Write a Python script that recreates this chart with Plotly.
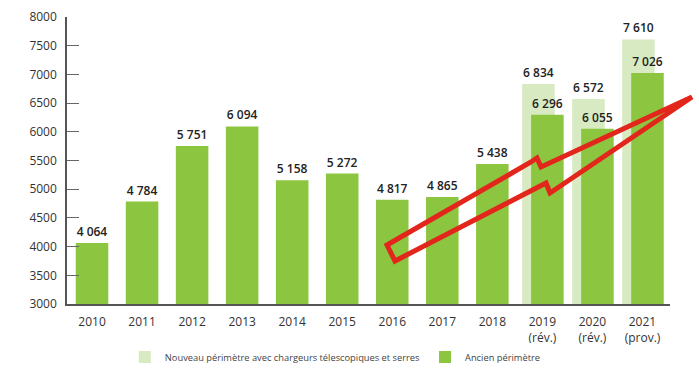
import plotly.graph_objects as go

# ---- data ----
categories = ["2010", "2011", "2012", "2013", "2014", "2015", "2016", "2017", "2018",
              "2019<br>(rév.)", "2020<br>(rév.)", "2021<br>(prov.)"]
ancien = [4064, 4784, 5751, 6094, 5158, 5272, 4817, 4865, 5438, 6296, 6055, 7026]
nouveau_categories = ["2019<br>(rév.)", "2020<br>(rév.)", "2021<br>(prov.)"]
nouveau = [6834, 6572, 7610]
y_ticks = [3000, 3500, 4000, 4500, 5000, 5500, 6000, 6500, 7000, 7500, 8000]

def fmt(v):
    return f"{v:,}".replace(",", " ")

DARK = "#8cc540"
LIGHT = "#d8eac2"
TXT = "#222222"
FONT = "Open Sans"

BAR_W = 0.65
dark_offsets = [-BAR_W / 2 + (0.1 if c in nouveau_categories else 0.0) for c in categories]
light_offsets = [-BAR_W / 2 - 0.08 for _ in nouveau_categories]

fig = go.Figure()
fig.add_trace(go.Bar(
    x=nouveau_categories, y=nouveau, name="Nouveau périmètre avec chargeurs télescopiques et serres",
    marker=dict(color=LIGHT, line=dict(width=0)), width=BAR_W, offset=light_offsets,
    text=[fmt(v) for v in nouveau], textposition="outside", cliponaxis=False,
    outsidetextfont=dict(family=FONT, size=12, color=TXT, weight=600),
))
fig.add_trace(go.Bar(
    x=categories, y=ancien, name="Ancien périmètre",
    marker=dict(color=DARK, line=dict(width=0)), width=BAR_W, offset=dark_offsets,
    text=[fmt(v) for v in ancien], textposition="outside", cliponaxis=False,
    outsidetextfont=dict(family=FONT, size=12, color=TXT, weight=600),
))

# red decorative arrow (pixel positions converted to paper coords)
L, R, T, B = 67, 670, 17, 304
def p(x, y):
    return f"{(x - L) / (R - L):.4f},{(B - y) / (B - T):.4f}"
pts = [(387, 245), (531, 162), (537, 158), (541, 167), (692, 97),
       (550, 193), (546, 183), (395, 261)]
path = "M " + " L ".join(p(x, y) for x, y in pts) + " Z"
fig.add_shape(type="path", path=path, xref="paper", yref="paper",
              line=dict(color="#e3261c", width=5), fillcolor="rgba(0,0,0,0)", layer="above")

fig.update_layout(
    width=699, height=370,
    margin=dict(l=L, r=699 - R, t=T, b=370 - B, autoexpand=False),
    barmode="overlay",
    plot_bgcolor="white", paper_bgcolor="white",
    font=dict(family=FONT, size=12, color="#333333"),
    showlegend=True,
    legend=dict(orientation="h", x=0.445, xanchor="center", y=-0.185, yanchor="middle",
                font=dict(size=9.3, color="#444444"), itemwidth=30, traceorder="normal"),
)
fig.update_xaxes(
    type="category", categoryorder="array", categoryarray=categories,
    range=[-0.5, 11.55], showline=True, linecolor="#555555", linewidth=1.5,
    ticks="", showgrid=False, tickfont=dict(size=12, color="#333333"), automargin=False,
    ticklabelstandoff=6,
)
fig.update_yaxes(
    range=[3000, 8000], tickvals=y_ticks, tickformat="d",
    showline=True, linecolor="#555555", linewidth=1.5,
    ticks="inside", ticklen=12, tickcolor="#666666", tickwidth=1,
    showgrid=False, zeroline=False, tickfont=dict(size=12, color="#333333"),
    ticklabelstandoff=6, automargin=False,
)
fig.write_html("out.html", config={"displayModeBar": False},
               post_script="document.body.style.margin='0';document.body.style.overflow='hidden';")
